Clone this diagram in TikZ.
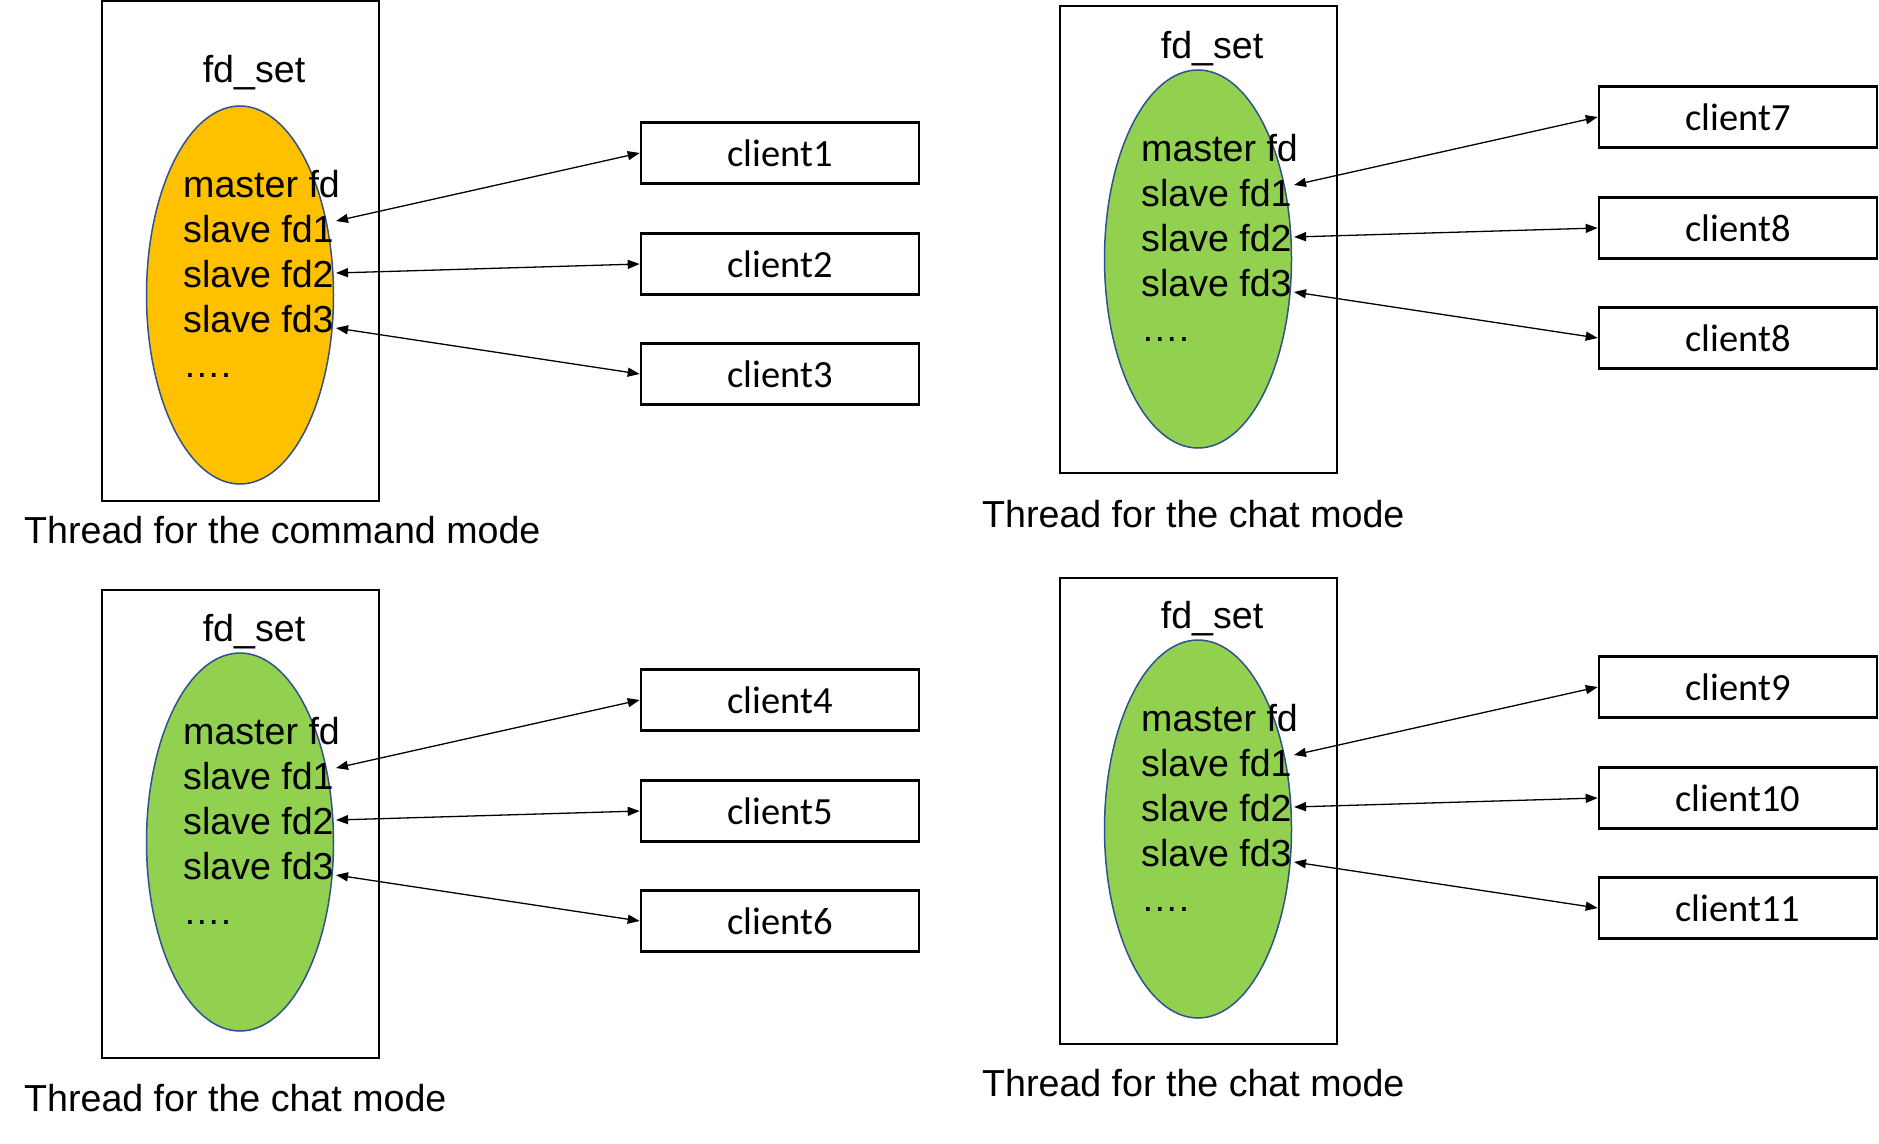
\documentclass[tikz,border=0pt]{standalone}
\usepackage{fontspec}
\setmainfont{Liberation Sans}
\newfontfamily\calibrifont{Carlito}
\usetikzlibrary{arrows.meta}
\definecolor{orangefill}{HTML}{FFC000}
\definecolor{greenfill}{HTML}{92D050}
\definecolor{ellline}{HTML}{2F528F}
\tikzset{
  panelbox/.style={draw=black, line width=1.8pt, inner sep=0pt},
  setellipse/.style={draw=ellline, line width=1.5pt, ellipse, inner sep=0pt, minimum width=187pt, minimum height=378pt},
  clientbox/.style={draw=black, line width=2.6pt, inner sep=0pt, minimum width=278pt, minimum height=61pt, font=\calibrifont\fontsize{38.5}{44}\selectfont},
  fdtext/.style={anchor=base west, inner sep=0pt, font=\fontsize{37.6}{44}\selectfont},
  fdtitle/.style={anchor=base, inner sep=0pt, font=\fontsize{37.6}{44}\selectfont},
  captext/.style={anchor=base west, inner sep=0pt, font=\fontsize{37.6}{44}\selectfont},
  link/.style={line width=1.3pt, {Triangle[length=12pt,width=9pt]}-{Triangle[length=12pt,width=9pt]}}
}
\usetikzlibrary{shapes.geometric}
\begin{document}
\begin{tikzpicture}[x=1pt,y=-1pt]
\useasboundingbox (0,0) rectangle (1879,1143);
\foreach \i/\ex/\ey/\rt/\rb/\fy/\cy/\col/\ca/\cb/\cc/\cap in {
 1/240/295/294/206/213/248/orangefill/client1/client2/client3/Thread for the command mode,
 2/1198/259/253/214/201/268/greenfill/client7/client8/client8/Thread for the chat mode,
 3/240/842/252/216/201/269/greenfill/client4/client5/client6/Thread for the chat mode,
 4/1198/829/251/215/201/267/greenfill/client9/client10/client11/Thread for the chat mode}{
  \node[panelbox, minimum width=277pt, minimum height={(\rt+\rb)*1pt}] (r\i) at ({\ex+0.5},{\ey+(\rb-\rt)/2}) {};
  \node[fdtitle] (f\i) at ({\ex+14},{\ey-\fy}) {fd\_set};
  \node[setellipse, fill=\col] (e\i) at (\ex,\ey) {};
  \node[fdtext] (ta\i) at ({\ex-57},{\ey-98}) {master fd};
  \node[fdtext] (tb\i) at ({\ex-57},{\ey-53}) {slave fd1};
  \node[fdtext] (tc\i) at ({\ex-57},{\ey-8}) {slave fd2};
  \node[fdtext] (td\i) at ({\ex-57},{\ey+37}) {slave fd3};
  \node[fdtext] (te\i) at ({\ex-57},{\ey+82}) {….};
  \node[clientbox] (ca\i) at ({\ex+540},{\ey-142}) {\ca};
  \node[clientbox] (cb\i) at ({\ex+540},{\ey-31}) {\cb};
  \node[clientbox] (cc\i) at ({\ex+540},{\ey+79}) {\cc};
  \coordinate (pa\i) at ({\ex+96},{\ey-74});
  \coordinate (pb\i) at ({\ex+96},{\ey-22});
  \coordinate (pc\i) at ({\ex+96},{\ey+33});
  \draw[link] (pa\i) -- (ca\i.west);
  \draw[link] (pb\i) -- (cb\i.west);
  \draw[link] (pc\i) -- (cc\i.west);
  \node[captext] (k\i) at ({\ex-216},{\ey+\cy}) {\cap};
}
\end{tikzpicture}
\end{document}
